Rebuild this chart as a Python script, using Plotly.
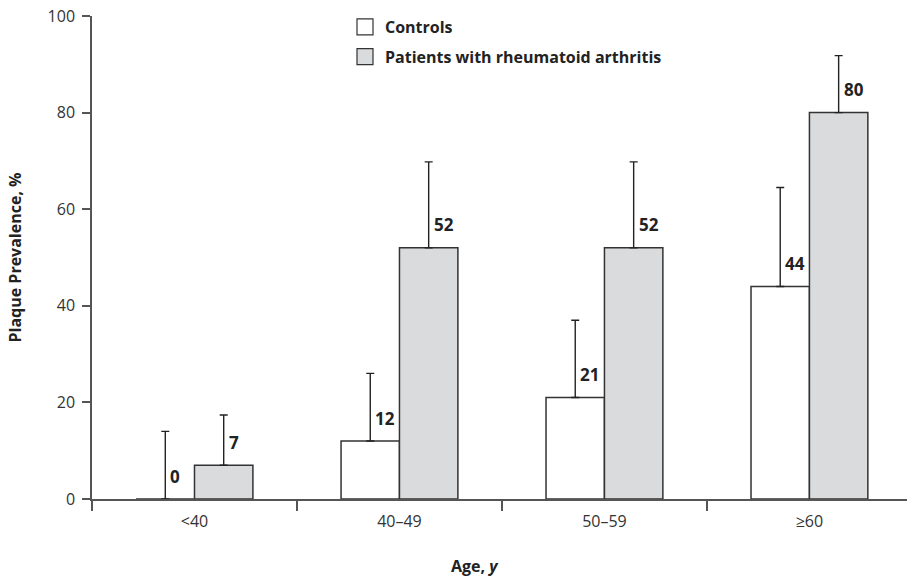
import plotly.graph_objects as go

categories = ["<40", "40–49", "50–59", "≥60"]
controls = [0, 12, 21, 44]
patients = [7, 52, 52, 80]
controls_upper = [14, 26, 37, 64.5]
patients_upper = [17.4, 69.8, 69.8, 91.8]
y_ticks = [0, 20, 40, 60, 80, 100]
series_names = ["Controls", "Patients with rheumatoid arthritis"]

FONT = "Open Sans"
LINE = "#333333"
AX = "#555555"
GRAY = "#dadbdd"
BARGAP = 0.43

W, H = 907, 580
ML, MR, MT, MB = 92, 0, 16, 81
PW, PH = W - ML - MR, H - MT - MB

fig = go.Figure()
err_c = [u - v for u, v in zip(controls_upper, controls)]
err_p = [u - v for u, v in zip(patients_upper, patients)]

fig.add_trace(go.Bar(
    x=categories, y=controls, name=series_names[0], showlegend=False,
    marker=dict(color="white", line=dict(color=LINE, width=1.5)),
    error_y=dict(type="data", symmetric=False, array=err_c, arrayminus=[0]*4,
                 color="#222222", thickness=1.4, width=4),
))
fig.add_trace(go.Bar(
    x=categories, y=patients, name=series_names[1], showlegend=False,
    marker=dict(color=GRAY, line=dict(color=LINE, width=1.5)),
    error_y=dict(type="data", symmetric=False, array=err_p, arrayminus=[0]*4,
                 color="#222222", thickness=1.4, width=4),
))

# legend entries
for name, col, grp in [(series_names[0], "white", "a"), (series_names[1], GRAY, "b")]:
    fig.add_trace(go.Scatter(
        x=[None], y=[None], mode="markers", name=name, legendgroup=grp,
        marker=dict(symbol="square", size=16, color=col, line=dict(color=LINE, width=1.2)),
    ))

# value labels
half = (1 - BARGAP) / 4
for i in range(len(categories)):
    for vals, off in [(controls, -half), (patients, half)]:
        fig.add_annotation(
            x=i + off, y=vals[i], xref="x", yref="y", text=f"<b>{vals[i]}</b>",
            showarrow=False, xanchor="left", yanchor="middle", xshift=3, yshift=23,
            font=dict(family=FONT, size=17, color="#222222"),
        )

fig.add_annotation(
    x=(475 - ML) / PW, y=-(566 - (H - MB)) / PH, xref="paper", yref="paper",
    text="<b>Age, <i>y</i></b>",
    showarrow=False, font=dict(family=FONT, size=16, color="#222222"),
    xanchor="center", yanchor="middle",
)

fig.update_layout(
    width=W, height=H,
    margin=dict(l=ML, r=MR, t=MT, b=MB, pad=0),
    paper_bgcolor="white", plot_bgcolor="white",
    barmode="group", bargap=BARGAP, bargroupgap=0,
    font=dict(family=FONT, size=15, color="#333333"),
    legend=dict(x=(345 - ML) / PW, y=1 + 6 / PH, xanchor="left", yanchor="top",
                font=dict(family=FONT, size=16, color="#222222", weight="bold"),
                traceorder="grouped", tracegroupgap=6, itemwidth=30,
                bgcolor="rgba(0,0,0,0)"),
    xaxis=dict(
        type="category", range=[-0.5, 3.476], showline=True, linecolor=AX, linewidth=1.5,
        ticks="outside", tickson="boundaries", ticklen=10, tickwidth=1.5, tickcolor=AX,
        showgrid=False, zeroline=False, automargin=False, ticklabelstandoff=7,
        tickfont=dict(family=FONT, size=16, color="#333333"),
    ),
    yaxis=dict(
        range=[0, 100], tickvals=y_ticks, showline=True, linecolor=AX, linewidth=1.5,
        ticks="outside", ticklen=8, tickwidth=1.5, tickcolor=AX, showgrid=False, zeroline=False,
        automargin=False, ticklabelstandoff=4,
        tickfont=dict(family=FONT, size=16, color="#333333"),
        title=dict(text="<b>Plaque Prevalence, %</b>", font=dict(family=FONT, size=16, color="#222222"),
                   standoff=22),
    ),
)

fig.write_html("out.html", config={"displayModeBar": False},
               post_script="document.body.style.margin='0';")
